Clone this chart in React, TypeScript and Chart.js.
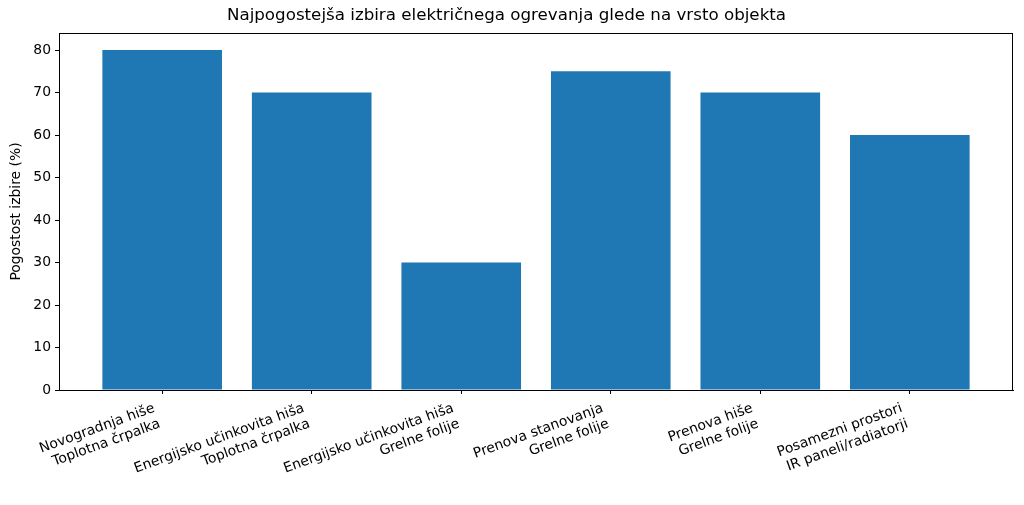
import React, { useEffect, useRef } from 'react';
import { Chart, registerables } from 'chart.js';

Chart.register(...registerables);

const titleText = 'Najpogostejša izbira električnega ogrevanja glede na vrsto objekta';
const yAxisTitle = 'Pogostost izbire (%)';
const categories: string[][] = [
  ['Novogradnja hiše', 'Toplotna črpalka'],
  ['Energijsko učinkovita hiša', 'Toplotna črpalka'],
  ['Energijsko učinkovita hiša', 'Grelne folije'],
  ['Prenova stanovanja', 'Grelne folije'],
  ['Prenova hiše', 'Grelne folije'],
  ['Posamezni prostori', 'IR paneli/radiatorji'],
];
const values = [80, 70, 30, 75, 70, 60];
const yTicks = [0, 10, 20, 30, 40, 50, 60, 70, 80];

const FONT = "'DejaVu Sans', sans-serif";

const frame = {
  id: 'frame',
  afterDraw(chart: any) {
    const { ctx, chartArea } = chart;
    ctx.save();
    ctx.strokeStyle = '#000';
    ctx.lineWidth = 1;
    ctx.strokeRect(
      Math.round(chartArea.left) + 0.5,
      Math.round(chartArea.top) + 0.5,
      Math.round(chartArea.right - chartArea.left) - 1,
      Math.round(chartArea.bottom - chartArea.top)
    );
    ctx.restore();
  },
};

export default function App() {
  const ref = useRef<HTMLCanvasElement>(null);
  useEffect(() => {
    document.body.style.margin = '0';
    const n = values.length;
    const chart = new Chart(ref.current!, {
      type: 'bar',
      data: {
        datasets: [
          {
            data: values.map((v, i) => ({ x: i, y: v })),
            backgroundColor: '#1f77b4',
            borderWidth: 0,
            barPercentage: 0.8,
            categoryPercentage: 1,
          },
        ],
      },
      options: {
        animation: false,
        responsive: false,
        maintainAspectRatio: false,
        layout: { padding: { left: 0, right: 11, top: 0, bottom: 0 } },
        plugins: {
          legend: { display: false },
          tooltip: { enabled: false },
          title: {
            display: true,
            text: titleText,
            color: '#000',
            font: { family: FONT, size: 16.7, weight: 'normal' },
            padding: { top: 6, bottom: 7 },
          },
        },
        scales: {
          x: {
            type: 'linear',
            min: -0.69,
            max: n - 1 + 0.69,
            offset: false,
            grid: { offset: false, drawOnChartArea: false, drawTicks: true, tickLength: 4, color: '#000' },
            border: { display: true, color: '#000' },
            afterBuildTicks: (s: any) => {
              s.ticks = categories.map((_, i) => ({ value: i }));
            },
            afterFit: (s: any) => {
              s.height = 115;
            },
            ticks: {
              autoSkip: false,
              minRotation: 20,
              maxRotation: 20,
              color: '#000',
              padding: 6,
              labelOffset: -8,
              font: { family: FONT, size: 13.9 },
              callback: (v: any) => categories[Math.round(v)] as any,
            },
          },
          y: {
            type: 'linear',
            min: 0,
            max: 84,
            grid: { drawOnChartArea: false, drawTicks: true, tickLength: 4, color: '#000' },
            border: { display: true, color: '#000' },
            afterBuildTicks: (s: any) => {
              s.ticks = yTicks.map((v) => ({ value: v }));
            },
            afterFit: (s: any) => {
              s.width = 59;
            },
            ticks: {
              color: '#000',
              padding: 4,
              font: { family: FONT, size: 13.9 },
            },
            title: {
              display: true,
              text: yAxisTitle,
              color: '#000',
              font: { family: FONT, size: 13.9 },
              padding: { top: 8, bottom: 0 },
            },
          },
        },
      },
      plugins: [frame],
    } as any);
    return () => chart.destroy();
  }, []);
  return (
    <div style={{ width: 1024, height: 505, background: '#fff' }}>
      <canvas ref={ref} width={1024} height={505} style={{ display: 'block' }} />
    </div>
  );
}
